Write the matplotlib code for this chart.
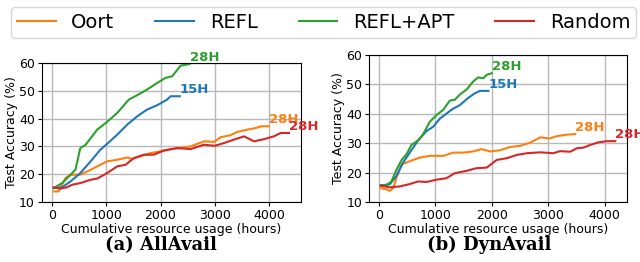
import matplotlib
matplotlib.use("Agg")
import matplotlib.pyplot as plt

# (a) AllAvail
all_oort_x = [30, 120, 245, 340, 520, 710, 890, 1015, 1200, 1385, 1475, 1630, 1815, 2000, 2185, 2370,
              2555, 2800, 2985, 3110, 3290, 3415, 3600, 3755, 3850, 4000]
all_oort_y = [13.8, 13.8, 18.6, 19.8, 19.8, 21.6, 23.4, 24.6, 25.2, 26.0, 25.5, 26.4, 27.6, 28.2, 29.0, 29.4,
              30.0, 31.8, 31.6, 33.3, 34.0, 35.2, 36.0, 36.6, 37.2, 37.2]
all_refl_x = [30, 185, 340, 520, 710, 890, 1015, 1200, 1385, 1570, 1750, 1940, 2120, 2185, 2355]
all_refl_y = [15.0, 15.3, 17.4, 20.4, 24.6, 28.8, 30.9, 34.2, 37.8, 40.8, 43.2, 44.8, 46.8, 48.0, 48.0]
all_apt_x = [30, 185, 340, 430, 520, 615, 830, 1015, 1200, 1415, 1570, 1750, 1940, 2090, 2215, 2370, 2535]
all_apt_y = [15.0, 16.8, 19.8, 21.6, 29.4, 30.5, 36.0, 38.8, 42.0, 46.8, 48.4, 50.4, 52.8, 54.6, 55.2, 59.0, 59.6]
all_rand_x = [30, 155, 275, 370, 520, 710, 830, 1015, 1200, 1355, 1510, 1690, 1875, 2060, 2310, 2555,
              2800, 3000, 3170, 3350, 3540, 3725, 3910, 4090, 4215, 4370]
all_rand_y = [15.3, 14.8, 15.3, 16.2, 16.8, 18.0, 18.4, 20.4, 22.8, 23.4, 25.8, 27.0, 27.0, 28.5, 29.4, 29.0,
              30.6, 30.2, 31.2, 32.4, 33.6, 31.8, 32.6, 33.6, 34.8, 34.8]

# (b) DynAvail
dyn_oort_x = [30, 130, 190, 250, 310, 400, 545, 720, 900, 1140, 1315, 1495, 1670, 1820, 1970, 2145,
              2320, 2500, 2680, 2860, 3030, 3150, 3330, 3480]
dyn_oort_y = [14.7, 14.3, 13.8, 14.7, 18.3, 22.8, 23.9, 25.1, 25.7, 25.7, 26.8, 26.8, 27.2, 28.0, 27.2, 27.6,
              28.7, 29.1, 30.2, 32.0, 31.6, 32.4, 32.9, 33.1]
dyn_refl_x = [30, 190, 310, 425, 545, 695, 840, 960, 1080, 1165, 1285, 1435, 1580, 1700, 1790, 1940]
dyn_refl_y = [15.7, 16.0, 18.9, 23.4, 26.8, 31.0, 34.1, 35.6, 38.4, 39.6, 41.4, 43.0, 45.4, 47.0, 47.8, 47.8]
dyn_apt_x = [30, 130, 220, 310, 400, 485, 575, 695, 780, 900, 1020, 1140, 1255, 1345, 1435, 1550, 1670,
             1760, 1850, 1910, 2000]
dyn_apt_y = [15.7, 15.7, 17.0, 21.0, 24.3, 26.2, 29.4, 31.0, 33.0, 37.3, 39.6, 41.4, 44.5, 44.8, 46.6, 48.2,
             51.0, 52.4, 52.1, 53.3, 53.8]
dyn_rand_x = [30, 190, 370, 545, 695, 840, 1020, 1195, 1345, 1550, 1730, 1910, 2085, 2265, 2440, 2620,
              2860, 3090, 3210, 3390, 3510, 3625, 3745, 3890, 4040, 4190]
dyn_rand_y = [15.5, 15.0, 15.3, 16.1, 17.0, 16.8, 17.6, 18.1, 19.8, 20.6, 21.5, 21.7, 24.3, 24.9, 26.0, 26.6,
              26.9, 26.6, 27.3, 27.1, 28.3, 28.5, 29.4, 30.3, 30.7, 30.7]

names = ["Oort", "REFL", "REFL+APT", "Random"]
colors = ["tab:orange", "tab:blue", "tab:green", "tab:red"]
end_labels = ["28H", "15H", "28H", "28H"]

panels = [
    ("(a) AllAvail", [(all_oort_x, all_oort_y), (all_refl_x, all_refl_y),
                      (all_apt_x, all_apt_y), (all_rand_x, all_rand_y)]),
    ("(b) DynAvail", [(dyn_oort_x, dyn_oort_y), (dyn_refl_x, dyn_refl_y),
                      (dyn_apt_x, dyn_apt_y), (dyn_rand_x, dyn_rand_y)]),
]

fig = plt.figure(figsize=(6.4, 2.62), dpi=100)
ax_a = fig.add_axes([0.0656, 0.229, 0.4044, 0.531])
ax_b = fig.add_axes([0.5766, 0.229, 0.4031, 0.561])
caption_x = [0.252, 0.765]

handles = []
for i, (ax, (caption, series)) in enumerate(zip([ax_a, ax_b], panels)):
    for (xs, ys), name, c, lab in zip(series, names, colors, end_labels):
        ln, = ax.plot(xs, ys, color=c, lw=1.5, label=name)
        ax.annotate(lab, (xs[-1], ys[-1]), xytext=(0, 0), textcoords="offset points",
                    ha="left", va="bottom", color=c, fontsize=9.5, fontweight="bold",
                    annotation_clip=False)
        if i == 0:
            handles.append(ln)
    ax.set_ylim(10, 60)
    ax.set_yticks([10, 20, 30, 40, 50, 60])
    ax.set_xticks([0, 1000, 2000, 3000, 4000])
    ax.grid(True, color="#b8b8b8", lw=1.0)
    ax.tick_params(labelsize=9, length=3, pad=2)
    ax.set_xlabel("Cumulative resource usage (hours)", fontsize=9, labelpad=1)
    ax.set_ylabel("Test Accuracy (%)", fontsize=9, labelpad=1)
    fig.text(caption_x[i], 0.065, caption, ha="center", va="center",
             fontsize=13, fontweight="bold", family="DejaVu Serif")

fig.legend(handles=handles, labels=names, loc="upper left", ncol=4, mode="expand",
           bbox_to_anchor=(0.017, 0.973, 0.977, 0.0), fontsize=14, frameon=True,
           borderaxespad=0.0, handlelength=2.0, borderpad=0.3)

fig.savefig("out.png", dpi=100)
